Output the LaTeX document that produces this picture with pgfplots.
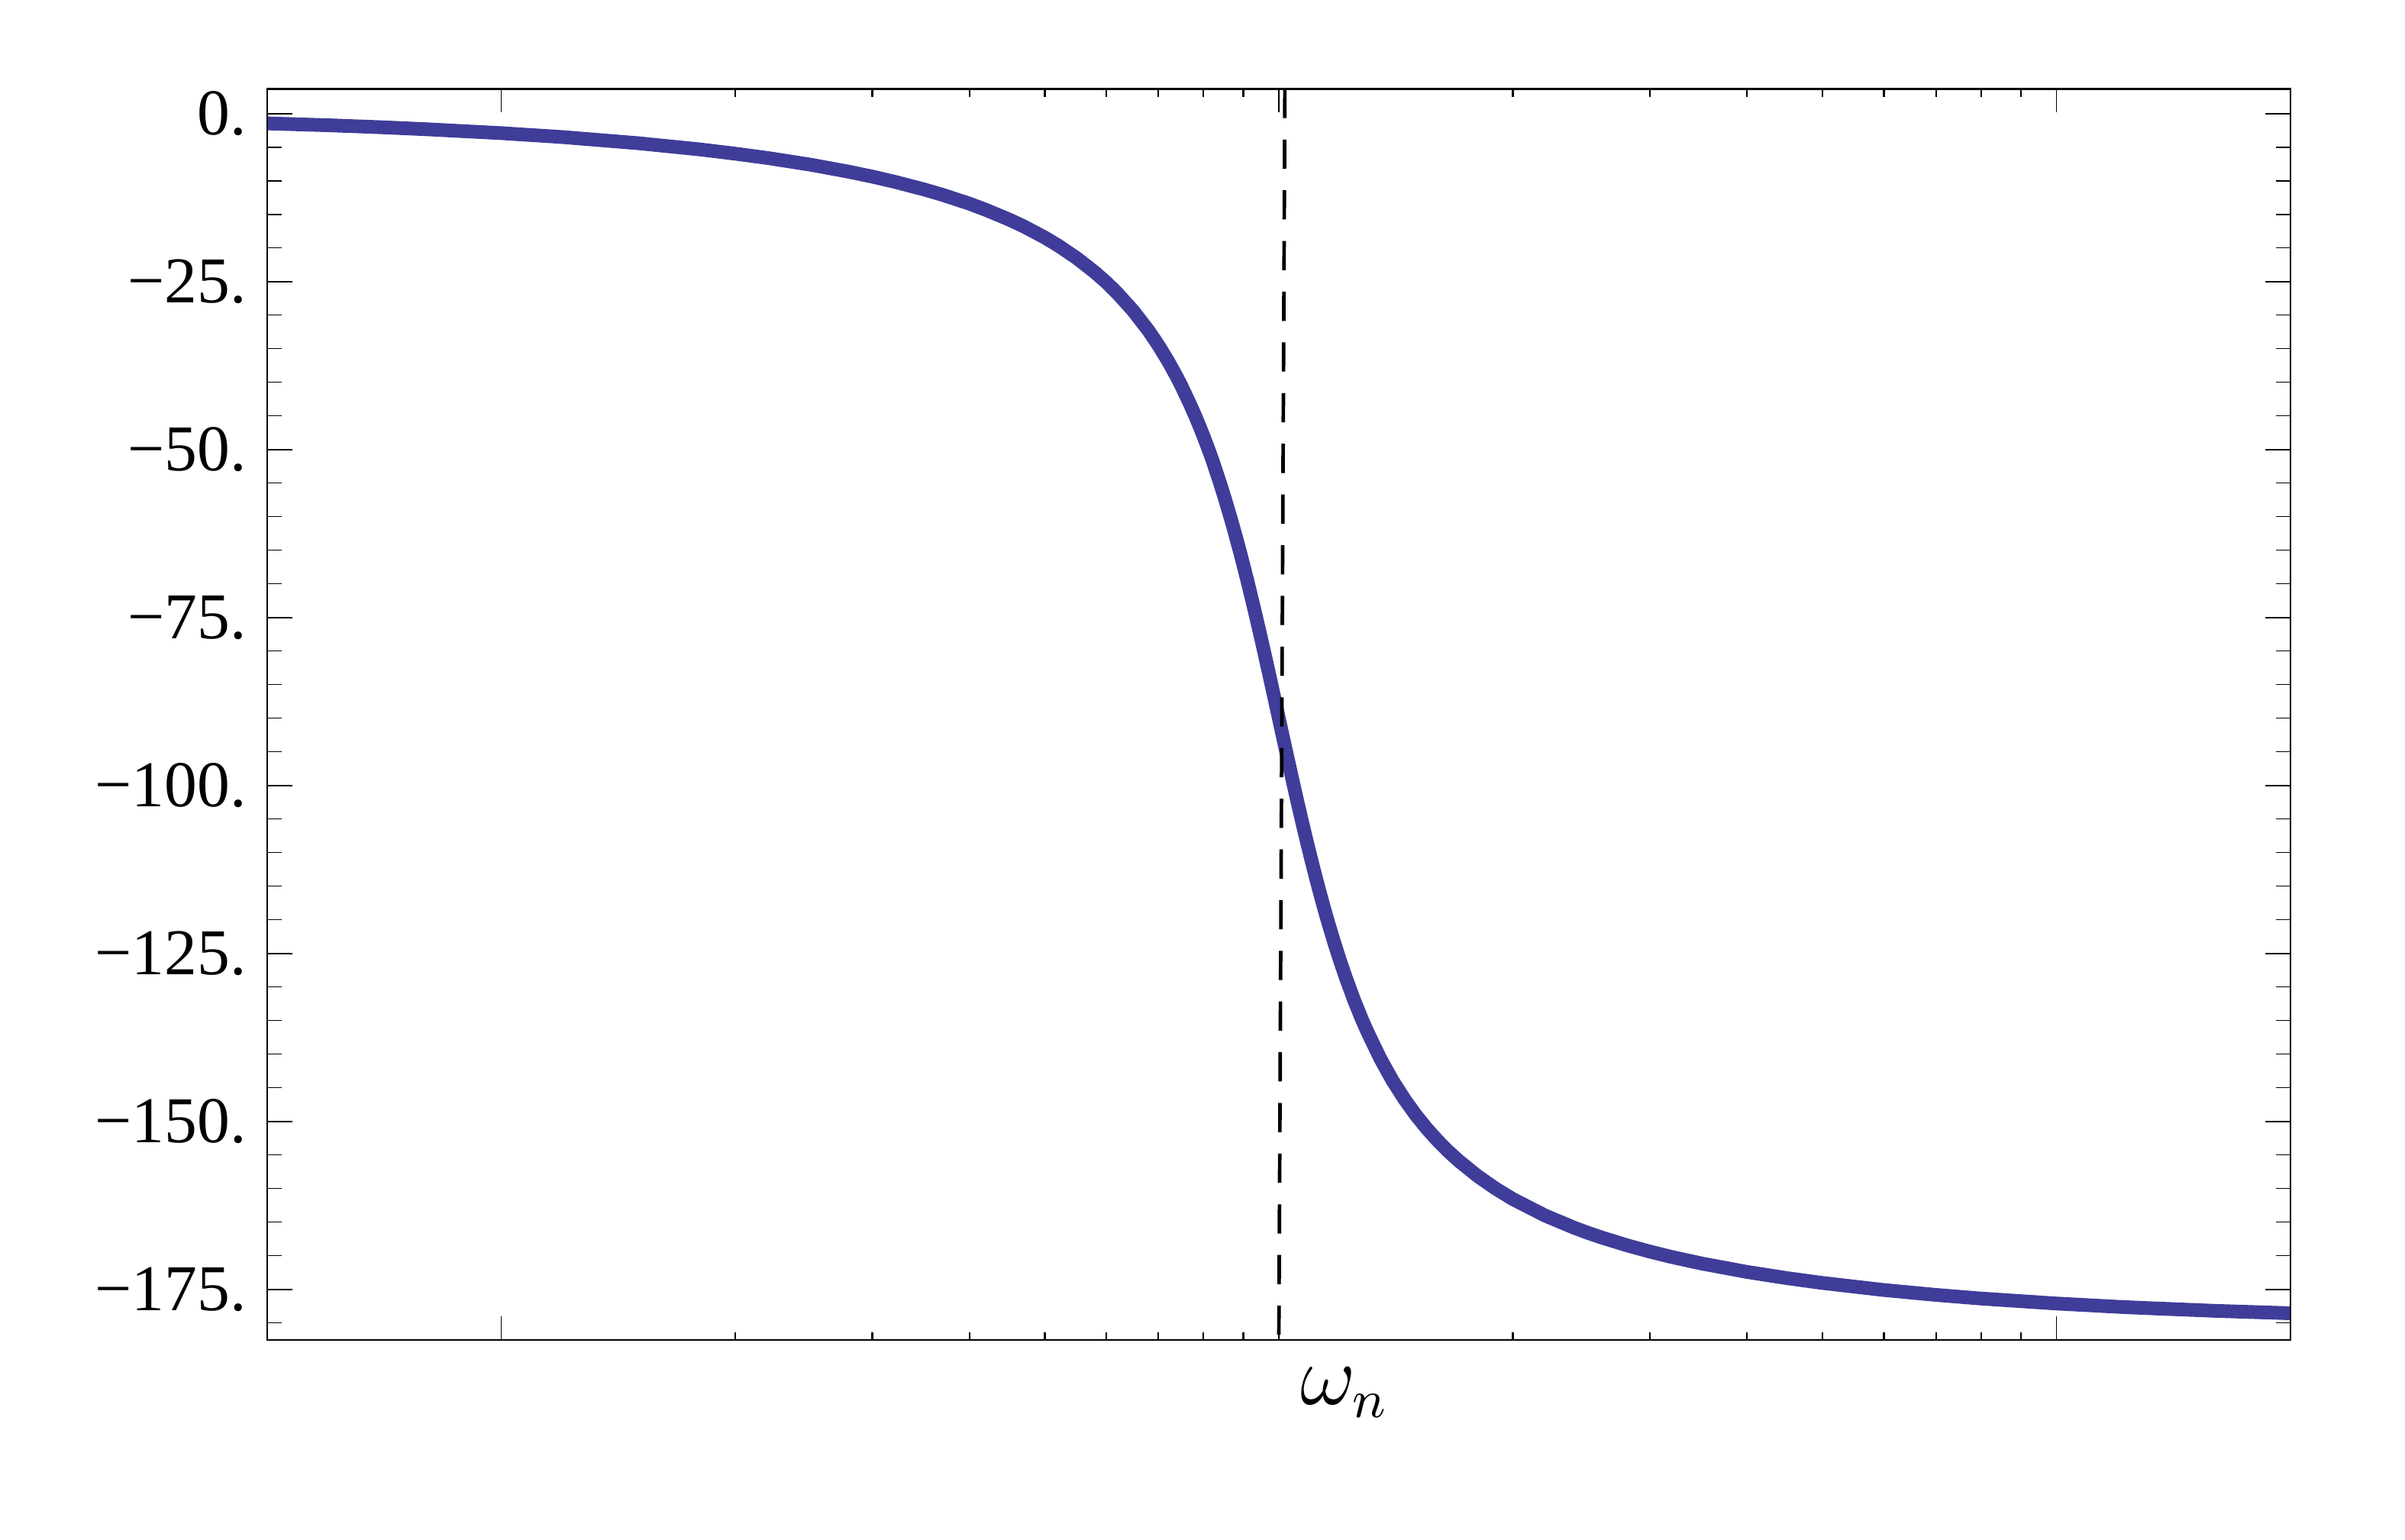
\documentclass[border=0pt]{standalone}
\usepackage{fontspec}
\setmainfont{Liberation Serif}
\usepackage{pgfplots}
\pgfplotsset{compat=1.18}
\definecolor{curve}{rgb}{0.247,0.24,0.6}
\begin{document}
\begin{tikzpicture}
% axis with y ticks and the data
\begin{axis}[
    at={(0,0)}, anchor=south west,
    scale only axis, width=339.2bp, height=209.7bp,
    xmode=log, log basis x=10,
    xmin=0.05, xmax=20, ymin=-182.5, ymax=3.7,
    clip mode=individual,
    axis line style={line width=0.3bp},
    tick align=inside,
    xtick=\empty, minor xtick={},
    ytick={-175,-150,-125,-100,-75,-50,-25,0},
    yticklabels={−175.,−150.,−125.,−100.,−75.,−50.,−25.,0.},
    minor ytick={-180,-170,-165,-160,-155,-145,-140,-135,-130,-120,-115,-110,-105,-95,-90,-85,-80,-70,-65,-60,-55,-45,-40,-35,-30,-20,-15,-10,-5},
    major tick length=4.2bp, minor tick length=2.5bp,
    every major tick/.style={line width=0.28bp, black},
    every minor tick/.style={line width=0.15bp, black},
    yticklabel style={font=\fontsize{11}{13}\selectfont},
  ]
\addplot[curve, line width=2.3bp, line join=round] coordinates {
(0.05,-1.44) (0.06,-1.72) (0.07,-2.01) (0.08,-2.31) (0.1,-2.89) (0.12,-3.48)
(0.15,-4.39) (0.18,-5.31) (0.2,-5.95) (0.22,-6.59) (0.25,-7.59) (0.28,-8.64)
(0.3,-9.36) (0.32,-10.11) (0.35,-11.28) (0.37,-12.10) (0.4,-13.39) (0.42,-14.31)
(0.45,-15.76) (0.47,-16.78) (0.5,-18.43) (0.52,-19.61) (0.55,-21.52) (0.58,-23.61)
(0.6,-25.11) (0.62,-26.73) (0.65,-29.37) (0.68,-32.31) (0.7,-34.46) (0.72,-36.78)
(0.74,-39.28) (0.75,-40.60) (0.77,-43.40) (0.78,-44.88) (0.79,-46.41) (0.8,-48.01)
(0.81,-49.65) (0.82,-51.33) (0.83,-53.14) (0.84,-54.96) (0.85,-56.86) (0.86,-58.80)
(0.87,-60.80) (0.88,-62.85) (0.89,-64.95) (0.9,-67.11) (0.91,-69.30) (0.92,-71.54)
(0.93,-73.80) (0.94,-76.09) (0.95,-78.40) (0.96,-80.72) (0.97,-83.05) (0.98,-85.38)
(0.99,-87.70) (1.0,-90.0) (1.01,-92.28) (1.02,-94.53) (1.03,-96.74) (1.04,-98.92)
(1.05,-101.05) (1.06,-103.13) (1.07,-105.15) (1.08,-107.13) (1.09,-109.04) (1.1,-110.90)
(1.11,-112.69) (1.12,-114.43) (1.13,-116.11) (1.14,-117.73) (1.15,-119.30) (1.16,-120.79)
(1.18,-123.63) (1.2,-126.25) (1.22,-128.68) (1.25,-131.99) (1.28,-134.93) (1.3,-136.68)
(1.35,-140.62) (1.4,-143.91) (1.45,-146.67) (1.5,-149.04) (1.55,-151.08) (1.6,-152.85)
(1.65,-154.41) (1.7,-155.78) (1.8,-158.11) (1.9,-160.00) (2.0,-161.57) (2.2,-164.02)
(2.4,-165.85) (2.5,-166.61) (2.6,-167.28) (2.8,-168.43) (3,-169.38) (3.2,-170.18)
(3.5,-171.16) (4,-172.41) (4.5,-173.33) (5,-174.05) (6,-175.10) (7,-175.83)
(8,-176.37) (10,-177.11) (12,-177.60) (13,-177.78) (16,-178.20) (20,-178.56)
};
\addplot[black, line width=0.6bp, dash pattern=on 4.9bp off 3.6bp] coordinates {(1.018,3.7) (1,-182.5)};
\node[anchor=north west, inner sep=0pt, font=\fontsize{13.5}{15}\selectfont, xshift=3.4bp, yshift=-4.5bp] at (axis cs:1,-182.5) {$\omega_n$};
\end{axis}
% axis with x ticks
\begin{axis}[
    at={(0,0)}, anchor=south west,
    scale only axis, width=339.2bp, height=209.7bp,
    xmode=log, log basis x=10,
    xmin=0.05, xmax=20, ymin=-182.5, ymax=3.7,
    axis line style={line width=0.3bp},
    tick align=inside,
    ytick=\empty, minor ytick={},
    xtick={0.1,1,10}, xticklabels={,,},
    minor xtick={0.2,0.3,0.4,0.5,0.6,0.7,0.8,0.9,2,3,4,5,6,7,8,9},
    major tick length=3.9bp, minor tick length=1.3bp,
    every major tick/.style={line width=0.15bp, black},
    every minor tick/.style={line width=0.28bp, black},
  ]
\end{axis}
\path[use as bounding box] (-44.8bp,-33.5bp) rectangle (358.4bp,224.6bp);
\end{tikzpicture}
\end{document}
